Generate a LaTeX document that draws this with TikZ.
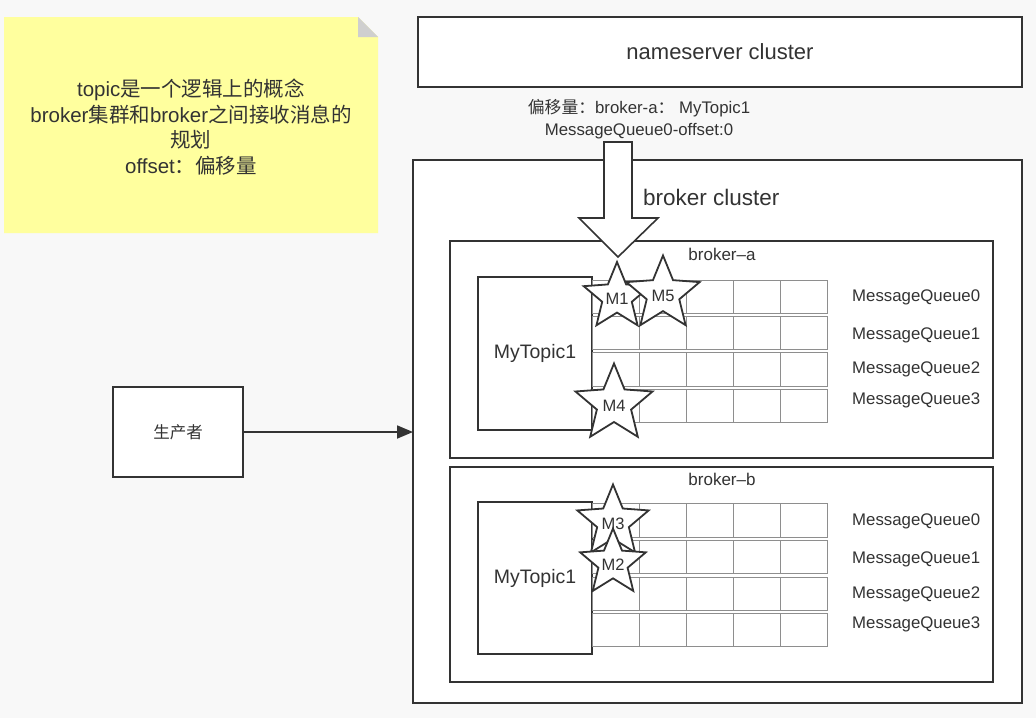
\documentclass[tikz,border=0pt]{standalone}
\usepackage{fontspec}
\setmainfont{Liberation Sans}
\newfontfamily\cjkf{Noto Sans CJK SC}
\newcommand\zh[1]{{\cjkf #1}}
\usetikzlibrary{shapes.geometric,arrows.meta}
\definecolor{bg}{HTML}{F8F8F8}
\definecolor{ink}{HTML}{333333}
\definecolor{gridc}{HTML}{8E8E8E}
\definecolor{notey}{HTML}{FFFF9E}
\definecolor{foldc}{HTML}{CFCFCF}
\begin{document}
\begin{tikzpicture}[x=1pt,y=-1pt,
  box/.style={draw=ink, fill=white, line width=1.8pt, inner sep=0pt, outer sep=0pt, anchor=north west, text=ink},
  mstar/.style={star, star points=5, star point ratio=2.25, draw=ink, fill=white, line width=1.8pt, inner sep=0pt, outer sep=0pt},
  stxt/.style={text=ink, inner sep=0pt, font=\fontsize{16.5}{16.5}\selectfont, yshift=-2pt},
  lbl/.style={text=ink, inner sep=0pt},
  mq/.style={text=ink, inner sep=0pt, anchor=west, font=\fontsize{16.8}{17}\selectfont},
  cell/.style={draw=gridc, line width=0.9pt}
]
\fill[bg] (0,0) rectangle (1036,718);
\useasboundingbox (0,0) rectangle (1036,718);

% note
\fill[notey] (4,17) -- (358,17) -- (378,37) -- (378,233) -- (4,233) -- cycle;
\fill[foldc] (358,17) -- (358,37) -- (378,37) -- cycle;
\node[lbl, align=center, font=\fontsize{20.5}{25.5}\selectfont] (note) at (191,127)
  {topic\zh{是一个逻辑上的概念}\\broker\zh{集群和}broker\zh{之间接收消息的}\\\zh{规划}\\offset\zh{：偏移量}};

% nameserver
\node[box, minimum width=604pt, minimum height=70pt, font=\fontsize{22}{22}\selectfont] (ns) at (418,17) {nameserver cluster};

\node[lbl, align=center, font=\fontsize{16.8}{22}\selectfont] (off) at (639,119)
  {\zh{偏移量：}broker-a\zh{：}\ MyTopic1\\MessageQueue0-offset:0};

% broker cluster
\node[box, line width=2.2pt, minimum width=609pt, minimum height=543pt] (cluster) at (413,160) {};
\node[lbl, anchor=west, font=\fontsize{22.5}{22.5}\selectfont] (clt) at (643,197) {broker cluster};

% brokers
\node[box, minimum width=543pt, minimum height=217pt] (ba) at (450,241) {};
\node[box, minimum width=543pt, minimum height=215pt] (bb) at (450,467) {};
\node[lbl, font=\fontsize{17}{17}\selectfont] (bat) at (722,254) {broker--a};
\node[lbl, font=\fontsize{17}{17}\selectfont] (bbt) at (722,479) {broker--b};

\node[box, minimum width=114pt, minimum height=153pt, font=\fontsize{19.5}{20}\selectfont] (ta) at (478,277) {MyTopic1};
\node[box, minimum width=114pt, minimum height=152pt, font=\fontsize{19.5}{20}\selectfont] (tb) at (478,502) {MyTopic1};

% grids
\foreach \t/\b in {280/313, 316/349, 352/386, 389/422, 503/537, 540/573, 577/610, 613/646}{
  \draw[cell] (592,\t) rectangle (827,\b);
  \foreach \x in {639,686,733,780}{ \draw[cell] (\x,\t) -- (\x,\b); }
}

% queue labels
\node[mq] (qa0) at (852,297) {MessageQueue0};
\node[mq] (qa1) at (852,335) {MessageQueue1};
\node[mq] (qa2) at (852,369) {MessageQueue2};
\node[mq] (qa3) at (852,400) {MessageQueue3};
\node[mq] (qb0) at (852,521) {MessageQueue0};
\node[mq] (qb1) at (852,559) {MessageQueue1};
\node[mq] (qb2) at (852,594) {MessageQueue2};
\node[mq] (qb3) at (852,624) {MessageQueue3};

% stars
\node[mstar, minimum size=70pt] (m1) at (617,297) {};
\node[stxt] (m1t) at (m1) {M1};
\node[mstar, minimum size=77pt] (m5) at (663,294) {};
\node[stxt] (m5t) at (m5) {M5};
\node[mstar, minimum size=81pt] (m4) at (614,404) {};
\node[stxt] (m4t) at (m4) {M4};
\node[mstar, minimum size=75pt] (m3) at (613,522) {};
\node[stxt] (m3t) at (m3) {M3};
\node[mstar, minimum size=69pt] (m2) at (613,563) {};
\node[stxt] (m2t) at (m2) {M2};

% big hollow arrow
\draw[ink, fill=white, line width=1.6pt, line join=miter]
  (604,142) -- (632,142) -- (632,218) -- (658,218) -- (618,257) -- (579,218) -- (604,218) -- cycle;

% producer
\node[box, minimum width=130pt, minimum height=90pt, font=\fontsize{16.5}{16.5}\selectfont\cjkf] (prod) at (113,387) {生产者};
\draw[ink, line width=1.8pt, -{Triangle[length=16pt,width=13pt]}] (prod.east) -- (prod.east -| cluster.west);
\end{tikzpicture}
\end{document}
